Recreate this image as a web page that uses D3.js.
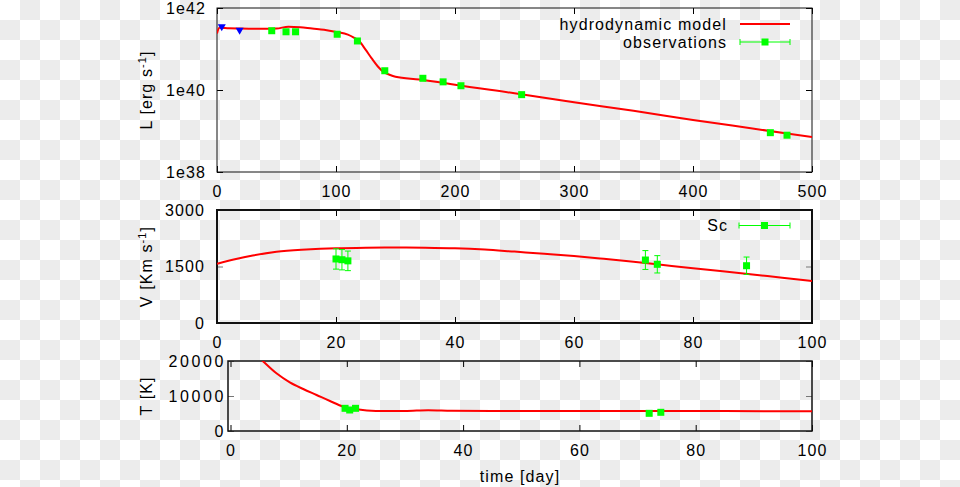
<!DOCTYPE html>
<html>
<head>
<meta charset="utf-8">
<script src="https://cdn.jsdelivr.net/npm/d3@7"></script>
<style>
  body { margin: 0; background: repeating-conic-gradient(#ececec 0 25%, #fff 0 50%) 0 0 / 40px 40px; }
  svg { display: block; font-family: "Liberation Sans", Arial, sans-serif; font-size: 16px; letter-spacing: 1.1px; }
</style>
</head>
<body>
<svg id="chart" width="960" height="487"></svg>
<script>
// luminosity (erg/s) vs day
const lumDays  = [0, 2, 10, 20, 40, 50, 60, 70, 80, 90, 100, 110, 115, 120, 125, 130, 135, 140, 145, 150, 170, 190, 200, 250, 300, 350, 400, 450, 500];
const lumModel = [2.4e41, 3.3e41, 3.2e41, 3.15e41, 3.1e41, 3.15e41, 3.5e41, 3.4e41, 3.15e41, 2.95e41, 2.6e41, 2.25e41, 1.9e41, 1.5e41, 9.5e40, 5.9e40, 3.8e40, 2.75e40, 2.35e40, 2.1e40, 1.8e40, 1.5e40, 1.35e40, 8.3e39, 5.0e39, 3.1e39, 1.86e39, 1.15e39, 7.1e38];
const lumObsDays = [46, 58, 66, 101, 118, 141, 173, 190, 205, 256, 465, 479];
const lumObs     = [2.79e41, 2.63e41, 2.63e41, 2.29e41, 1.57e41, 2.95e40, 1.93e40, 1.58e40, 1.27e40, 7.7e39, 9.1e38, 7.9e38];
const lumEarlyDays = [4, 19];
const lumEarly     = [3.5e41, 2.88e41];

// Sc velocity (km/s)
const velDays  = [0, 3, 6, 10, 15, 20, 25, 30, 35, 40, 45, 50, 55, 60, 65, 70, 75, 80, 85, 90, 95, 100];
const velModel = [1570, 1690, 1790, 1890, 1950, 1985, 2000, 2005, 2000, 1985, 1950, 1895, 1840, 1780, 1705, 1625, 1540, 1455, 1375, 1290, 1200, 1115];
const velObsDays = [20, 21, 22, 72, 74, 89];
const velObs     = [1700, 1680, 1650, 1672, 1558, 1521];
const velErr     = [270, 270, 260, 250, 230, 230];

// temperature (K)
const tempDays  = [4, 5.5, 7.9, 10.2, 12.5, 14.8, 17.1, 19.4, 21.7, 25, 30, 34, 38, 45, 55, 65, 75, 85, 100];
const tempModel = [22500, 20090, 16480, 13900, 12000, 10290, 8570, 6950, 6190, 5710, 5700, 5950, 5780, 5700, 5750, 5680, 5720, 5680, 5650];
const tempObsDays = [19.7, 20.5, 21.5, 72, 74];
const tempObs     = [6480, 6000, 6480, 5050, 5340];

const lumTicks = [1e38, 1e40, 1e42];
const lumTickLabels = ["1e38", "1e40", "1e42"];

const svg = d3.select("#chart");
const red = "#ff0000", green = "#00ff00", blue = "#0000ff";

function zip(xs, ys) { return xs.map((d, i) => [d, ys[i]]); }

function panel(x, y, o) {
    const [x0, x1] = x.range();
    const [y0, y1] = y.range();   // y0 bottom, y1 top
    const g = svg.append("g");

    const strip = a => a.call(s => s.select(".domain").remove());

    g.append("g").attr("transform", `translate(0,${y0})`)
        .call(d3.axisBottom(x).tickValues(o.xTicks).tickSizeInner(-6).tickSizeOuter(0).tickPadding(14))
        .call(strip);
    g.append("g").attr("transform", `translate(0,${y1})`)
        .call(d3.axisTop(x).tickValues(o.xTicks).tickFormat("").tickSizeInner(-6).tickSizeOuter(0))
        .call(strip);
    g.append("g").attr("transform", `translate(${x0},0)`)
        .call(d3.axisLeft(y).tickValues(o.yTicks).tickFormat((d, i) => o.yLabels[i]).tickSizeInner(-6).tickSizeOuter(0).tickPadding(o.pad))
        .call(strip)
        .call(s => s.selectAll("line").attr("stroke", o.yTickColor))
        .call(s => s.selectAll("text").style("letter-spacing", o.ySpacing || null));
    g.append("g").attr("transform", `translate(${x1},0)`)
        .call(d3.axisRight(y).tickValues(o.yTicks).tickFormat("").tickSizeInner(-6).tickSizeOuter(0))
        .call(strip)
        .call(s => s.selectAll("line").attr("stroke", o.yTickColor));

    g.selectAll(".tick text").attr("fill", "#000").style("font-size", "16px").style("font-family", null);

    g.append("rect")
        .attr("x", x0).attr("y", y1).attr("width", x1 - x0).attr("height", y0 - y1)
        .attr("fill", "none").attr("stroke", "#111").attr("stroke-width", o.frame);

    // y label, rotated
    const lab = g.append("text")
        .attr("transform", `translate(152,${(y0 + y1) / 2}) rotate(-90)`)
        .attr("text-anchor", "middle");
    lab.append("tspan").text(o.label[0]);
    if (o.label[1]) {
        lab.append("tspan").attr("dy", -6).style("font-size", "11px").text(o.label[1]);
        lab.append("tspan").attr("dy", 6).text(o.label[2]);
    }

    const clipId = "clip" + Math.round(y1);
    svg.append("clipPath").attr("id", clipId).append("rect")
        .attr("x", x0).attr("y", y1).attr("width", x1 - x0).attr("height", y0 - y1);
    return { g, clip: `url(#${clipId})` };
}

function squares(g, x, y, pts) {
    g.append("g").selectAll("rect").data(pts).join("rect")
        .attr("x", d => x(d[0]) - 3.5).attr("y", d => y(d[1]) - 3.5)
        .attr("width", 7).attr("height", 7).attr("fill", green);
}

function errSample(g, xa, xb, cy) {
    g.append("line").attr("x1", xa).attr("x2", xb).attr("y1", cy).attr("y2", cy).attr("stroke", green);
    [xa, xb].forEach(v => g.append("line").attr("x1", v).attr("x2", v).attr("y1", cy - 3).attr("y2", cy + 3).attr("stroke", green));
    g.append("rect").attr("x", (xa + xb) / 2 - 3.5).attr("y", cy - 3.5).attr("width", 7).attr("height", 7).attr("fill", green);
}

// ---- top: luminosity
const xL = d3.scaleLinear([0, 500], [217, 812]);
const yL = d3.scaleLog([1e38, 1e42], [172, 8]);
const pL = panel(xL, yL, {
    xTicks: [0, 100, 200, 300, 400, 500], yTicks: lumTicks, yLabels: lumTickLabels,
    pad: 11, yTickColor: "#000", frame: 1, label: ["L [erg s", "-1", "]"]
});
pL.g.append("path")
    .datum(zip(lumDays, lumModel))
    .attr("clip-path", pL.clip)
    .attr("fill", "none").attr("stroke", red).attr("stroke-width", 2)
    .attr("d", d3.line().x(d => xL(d[0])).y(d => yL(d[1])).curve(d3.curveMonotoneX));
squares(pL.g, xL, yL, zip(lumObsDays, lumObs));
pL.g.append("g").selectAll("path").data(zip(lumEarlyDays, lumEarly)).join("path")
    .attr("transform", d => `translate(${xL(d[0])},${yL(d[1])}) rotate(180)`)
    .attr("d", d3.symbol(d3.symbolTriangle, 28))
    .attr("fill", blue);

// legend
pL.g.append("text").attr("x", 727).attr("y", 30).attr("text-anchor", "end").text("hydrodynamic model");
pL.g.append("line").attr("x1", 740).attr("x2", 790).attr("y1", 24).attr("y2", 24).attr("stroke", red).attr("stroke-width", 2);
pL.g.append("text").attr("x", 727).attr("y", 48).attr("text-anchor", "end").text("observations");
errSample(pL.g, 740, 790, 42);

// ---- middle: velocity
const xV = d3.scaleLinear([0, 100], [217, 812]);
const yV = d3.scaleLinear([0, 3000], [323, 210]);
const pV = panel(xV, yV, {
    xTicks: [0, 20, 40, 60, 80, 100], yTicks: [0, 1500, 3000], yLabels: ["0", "1500", "3000"],
    pad: 12, yTickColor: "#777", frame: 2, label: ["V [Km s", "-1", "]"]
});
pV.g.append("path")
    .datum(zip(velDays, velModel))
    .attr("clip-path", pV.clip)
    .attr("fill", "none").attr("stroke", red).attr("stroke-width", 2)
    .attr("d", d3.line().x(d => xV(d[0])).y(d => yV(d[1])).curve(d3.curveMonotoneX));
const velPts = velObsDays.map((d, i) => [d, velObs[i], velErr[i]]);
const eb = pV.g.append("g").attr("stroke", green).attr("stroke-width", 1);
velPts.forEach(d => {
    const cx = xV(d[0]), ya = yV(d[1] + d[2]), yb = yV(d[1] - d[2]);
    eb.append("line").attr("x1", cx).attr("x2", cx).attr("y1", ya).attr("y2", yb);
    eb.append("line").attr("x1", cx - 3).attr("x2", cx + 3).attr("y1", ya).attr("y2", ya);
    eb.append("line").attr("x1", cx - 3).attr("x2", cx + 3).attr("y1", yb).attr("y2", yb);
});
squares(pV.g, xV, yV, velPts);
pV.g.append("text").attr("x", 728).attr("y", 231).attr("text-anchor", "end").text("Sc");
errSample(pV.g, 739, 790, 225.5);

// ---- bottom: temperature
const xT = d3.scaleLinear([-0.43, 100], [228, 812]);
const yT = d3.scaleLinear([0, 20000], [431, 361]);
const pT = panel(xT, yT, {
    xTicks: [0, 20, 40, 60, 80, 100], yTicks: [0, 10000, 20000], yLabels: ["0", "10000", "20000"],
    pad: 2, yTickColor: "#777", frame: 1.5, label: ["T [K]"], ySpacing: "2.6px"
});
pT.g.append("path")
    .datum(zip(tempDays, tempModel))
    .attr("clip-path", pT.clip)
    .attr("fill", "none").attr("stroke", red).attr("stroke-width", 2)
    .attr("d", d3.line().x(d => xT(d[0])).y(d => yT(d[1])).curve(d3.curveMonotoneX));
squares(pT.g, xT, yT, zip(tempObsDays, tempObs));

svg.append("text").attr("x", 520).attr("y", 482).attr("text-anchor", "middle").text("time [day]");
</script>
</body>
</html>
